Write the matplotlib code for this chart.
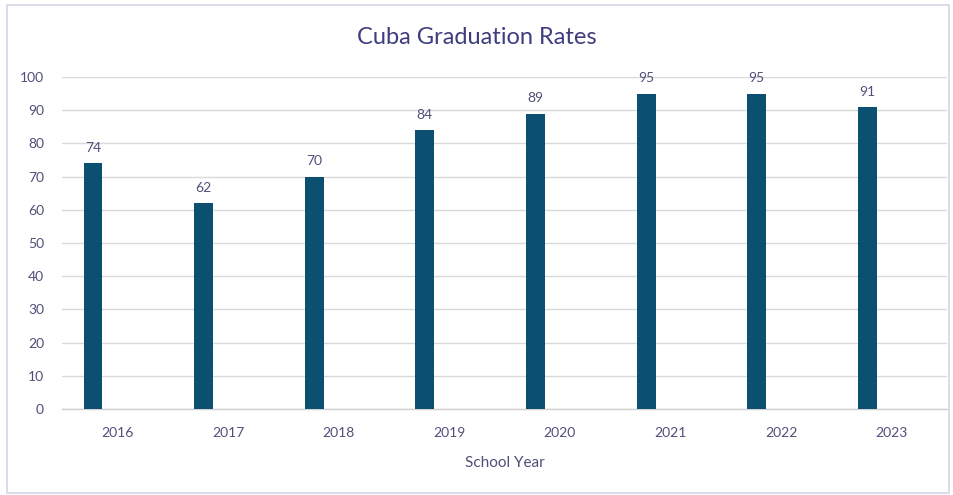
import matplotlib
matplotlib.use("Agg")
import matplotlib.pyplot as plt
from matplotlib.patches import Rectangle

years = ["2016", "2017", "2018", "2019", "2020", "2021", "2022", "2023"]
rates = [74, 62, 70, 84, 89, 95, 95, 91]
y_ticks = [0, 10, 20, 30, 40, 50, 60, 70, 80, 90, 100]

plt.rcParams["font.family"] = ["Lato", "DejaVu Sans"]

bar_color = "#0b4f71"
text_color = "#4f4f7a"
title_color = "#3d3d80"

fig = plt.figure(figsize=(9.54, 4.95), dpi=100)
fig.patches.append(Rectangle((0.007, 0.004), 0.988, 0.986, transform=fig.transFigure,
                             fill=False, edgecolor="#d4d4e6", linewidth=1.2))

ax = fig.add_axes([0.065, 0.1737, 0.9277, 0.6707])

positions = list(range(len(years)))
bar_x = [p - 0.22 for p in positions]
ax.bar(bar_x, rates, width=0.17, color=bar_color, zorder=3)

for x, v in zip(bar_x, rates):
    ax.text(x, v + 2.8, f"{v}", ha="center", va="bottom", fontsize=10,
            color=text_color, zorder=4)

ax.set_xlim(-0.5, len(years) - 0.5)
ax.set_ylim(0, 100)
ax.set_yticks(y_ticks)
ax.set_xticks(positions)
ax.set_xticklabels(years)
ax.yaxis.grid(True, color="#d9d9d9", linewidth=1.0, zorder=0)
ax.set_axisbelow(True)
for side in ["top", "right", "left"]:
    ax.spines[side].set_visible(False)
ax.spines["bottom"].set_color("#d0d0d0")
ax.spines["bottom"].set_linewidth(1.0)
ax.tick_params(axis="both", length=0, labelsize=10, labelcolor=text_color)
ax.tick_params(axis="x", pad=13)
ax.tick_params(axis="y", pad=13)

ax.set_xlabel("School Year", fontsize=11, color=text_color, labelpad=12)
fig.text(0.5, 0.925, "Cuba Graduation Rates", ha="center", va="center",
         fontsize=17, color=title_color)

fig.savefig("out.png", dpi=100)
